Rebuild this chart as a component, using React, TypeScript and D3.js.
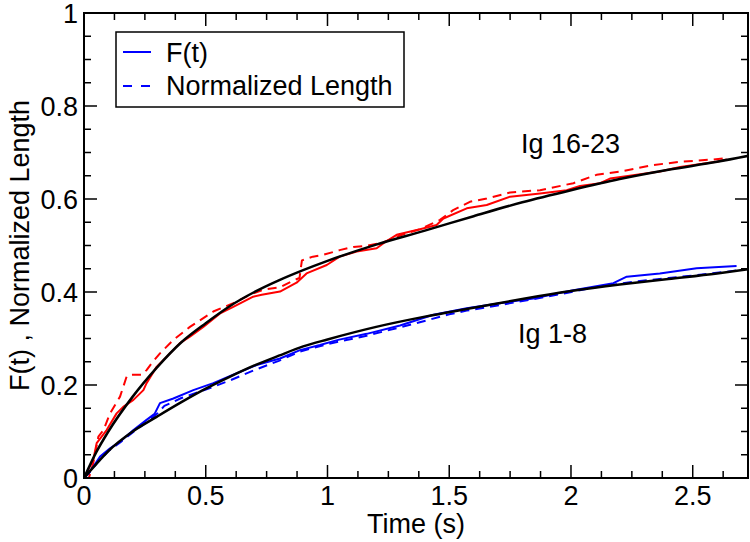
import * as d3 from "d3";

// fitted curves (black)
const fitT = [0, 0.05, 0.1, 0.2, 0.3, 0.4, 0.5, 0.6, 0.7, 0.8, 0.9, 1.0, 1.2, 1.4, 1.6, 1.8, 2.0, 2.2, 2.4, 2.6, 2.73];
const fitIg16 = [0, 0.055, 0.1, 0.175, 0.238, 0.292, 0.333, 0.37, 0.4, 0.425, 0.447, 0.467, 0.502, 0.532, 0.563, 0.593, 0.619, 0.643, 0.663, 0.68, 0.693];
const fitIg1 = [0, 0.03, 0.058, 0.1, 0.132, 0.163, 0.192, 0.218, 0.242, 0.263, 0.283, 0.298, 0.325, 0.347, 0.366, 0.385, 0.402, 0.416, 0.428, 0.44, 0.449];

// Ig 16-23, F(t) (red solid)
const ig16FT = [0, 0.038, 0.052, 0.093, 0.134, 0.161, 0.203, 0.244, 0.257, 0.298, 0.34, 0.394, 0.435, 0.49, 0.559, 0.613, 0.695, 0.73, 0.805, 0.873, 0.914, 0.997, 1.05, 1.12, 1.202, 1.23, 1.284, 1.38, 1.448, 1.476, 1.572, 1.654, 1.75, 1.873, 1.982, 2.037, 2.12, 2.16, 2.365, 2.448, 2.598, 2.64];
const ig16FV = [0, 0.039, 0.075, 0.103, 0.139, 0.153, 0.168, 0.189, 0.204, 0.239, 0.261, 0.29, 0.304, 0.325, 0.354, 0.368, 0.39, 0.394, 0.401, 0.42, 0.44, 0.458, 0.476, 0.487, 0.494, 0.505, 0.523, 0.535, 0.544, 0.558, 0.58, 0.587, 0.605, 0.612, 0.619, 0.628, 0.634, 0.644, 0.659, 0.669, 0.68, 0.685];

// Ig 16-23, normalized length (red dashed)
const ig16LT = [0, 0.02, 0.038, 0.059, 0.08, 0.107, 0.148, 0.175, 0.189, 0.237, 0.257, 0.278, 0.312, 0.367, 0.435, 0.531, 0.613, 0.695, 0.736, 0.805, 0.86, 0.885, 0.895, 0.94, 0.983, 1.05, 1.106, 1.16, 1.23, 1.3, 1.38, 1.462, 1.516, 1.585, 1.654, 1.75, 1.873, 2.01, 2.105, 2.201, 2.338, 2.448, 2.585, 2.64];
const ig16LV = [0, 0.0, 0.032, 0.089, 0.103, 0.139, 0.175, 0.218, 0.222, 0.222, 0.232, 0.247, 0.268, 0.297, 0.325, 0.358, 0.376, 0.397, 0.405, 0.41, 0.425, 0.43, 0.468, 0.476, 0.48, 0.49, 0.497, 0.499, 0.507, 0.522, 0.535, 0.555, 0.576, 0.594, 0.601, 0.614, 0.619, 0.634, 0.652, 0.659, 0.673, 0.68, 0.685, 0.688];

// Ig 1-8, F(t) (blue solid)
const ig1FT = [0, 0.038, 0.066, 0.107, 0.148, 0.203, 0.257, 0.29, 0.312, 0.367, 0.449, 0.531, 0.613, 0.709, 0.805, 0.887, 0.969, 1.044, 1.161, 1.298, 1.435, 1.572, 1.708, 1.845, 2.01, 2.174, 2.229, 2.365, 2.516, 2.68];
const ig1FV = [0, 0.024, 0.046, 0.064, 0.078, 0.103, 0.125, 0.138, 0.161, 0.171, 0.189, 0.204, 0.222, 0.243, 0.257, 0.275, 0.286, 0.297, 0.31, 0.328, 0.351, 0.365, 0.376, 0.386, 0.404, 0.419, 0.433, 0.44, 0.451, 0.456];

// Ig 1-8, normalized length (blue dashed)
const ig1LT = [0, 0.02, 0.05, 0.1, 0.15, 0.2, 0.257, 0.3, 0.33, 0.4, 0.5, 0.6, 0.7, 0.8, 0.887, 1.0, 1.161, 1.366, 1.5, 1.572, 1.708, 1.85, 1.982, 2.1, 2.256, 2.4, 2.53, 2.694];
const ig1LV = [0, 0.01, 0.03, 0.058, 0.077, 0.098, 0.12, 0.138, 0.155, 0.172, 0.19, 0.21, 0.232, 0.252, 0.272, 0.288, 0.306, 0.333, 0.352, 0.36, 0.372, 0.385, 0.398, 0.41, 0.422, 0.43, 0.437, 0.447];

const xTickLabels = ["0", "0.5", "1", "1.5", "2", "2.5"];
const yTickLabels = ["0", "0.2", "0.4", "0.6", "0.8", "1"];
const legendLabels = ["F(t)", "Normalized Length"];

const W = 750;
const H = 542;
const margin = { top: 13, right: 2, bottom: 64, left: 84 };
const font = "'Liberation Sans', Arial, Helvetica, sans-serif";

const zip = (t: number[], v: number[]) => t.map((d, i) => [d, v[i]] as [number, number]);

export default function App() {
  const x = d3.scaleLinear().domain([0, 2.727]).range([margin.left, W - margin.right]);
  const y = d3.scaleLinear().domain([0, 1]).range([H - margin.bottom, margin.top]);
  const x0 = margin.left, x1 = W - margin.right, y0 = H - margin.bottom, y1 = margin.top;

  const line = d3.line<[number, number]>().x((d) => x(d[0])).y((d) => y(d[1]));
  const smooth = d3.line<[number, number]>().x((d) => x(d[0])).y((d) => y(d[1])).curve(d3.curveMonotoneX);

  const xMajor = xTickLabels.map(Number);
  const yMajor = yTickLabels.map(Number);
  const xMinor = d3.range(0, 2.73, 0.125).filter((t) => !xMajor.some((m) => Math.abs(m - t) < 1e-6));
  const yMinor = d3.range(0, 1.0001, 0.05).filter((v) => !yMajor.some((m) => Math.abs(m - v) < 1e-6));

  const series = [
    { d: zip(ig16FT, ig16FV), color: "#ff0000", dash: undefined },
    { d: zip(ig16LT, ig16LV), color: "#ff0000", dash: "9,6" },
    { d: zip(ig1FT, ig1FV), color: "#0000ff", dash: undefined },
    { d: zip(ig1LT, ig1LV), color: "#0000ff", dash: "9,6" },
  ];

  return (
    <div style={{ position: "fixed", left: 0, top: 0 }}>
      <svg width={W} height={H} style={{ display: "block", background: "#fff" }} fontFamily={font}>
        <defs>
          <clipPath id="plot">
            <rect x={x0} y={y1} width={x1 - x0} height={y0 - y1} />
          </clipPath>
        </defs>

        <g clipPath="url(#plot)" fill="none" strokeLinejoin="round">
          {series.map((s, i) => (
            <path key={i} d={line(s.d) ?? ""} stroke={s.color} strokeWidth={2} strokeDasharray={s.dash} />
          ))}
          <path d={smooth(zip(fitT, fitIg16)) ?? ""} stroke="#000" strokeWidth={2.5} />
          <path d={smooth(zip(fitT, fitIg1)) ?? ""} stroke="#000" strokeWidth={2.5} />
        </g>

        {/* ticks, inward on all four sides */}
        <g stroke="#000" strokeWidth={1.5}>
          {xMajor.map((t) => (
            <g key={"xM" + t}>
              <line x1={x(t)} x2={x(t)} y1={y0} y2={y0 - 13} />
              <line x1={x(t)} x2={x(t)} y1={y1} y2={y1 + 13} />
            </g>
          ))}
          {xMinor.map((t) => (
            <g key={"xm" + t}>
              <line x1={x(t)} x2={x(t)} y1={y0} y2={y0 - 7} />
              <line x1={x(t)} x2={x(t)} y1={y1} y2={y1 + 7} />
            </g>
          ))}
          {yMajor.map((v) => (
            <g key={"yM" + v}>
              <line x1={x0} x2={x0 + 13} y1={y(v)} y2={y(v)} />
              <line x1={x1} x2={x1 - 13} y1={y(v)} y2={y(v)} />
            </g>
          ))}
          {yMinor.map((v) => (
            <g key={"ym" + v}>
              <line x1={x0} x2={x0 + 7} y1={y(v)} y2={y(v)} />
              <line x1={x1} x2={x1 - 7} y1={y(v)} y2={y(v)} />
            </g>
          ))}
        </g>
        <rect x={x0} y={y1} width={x1 - x0} height={y0 - y1} fill="none" stroke="#000" strokeWidth={2} />

        <g fontSize={27} fill="#000">
          {xTickLabels.map((l, i) => (
            <text key={l} x={x(xMajor[i])} y={y0 + 27} textAnchor="middle">{l}</text>
          ))}
          {yTickLabels.map((l, i) => (
            <text key={l} x={x0 - 6} y={y(yMajor[i]) + 10} textAnchor="end">{l}</text>
          ))}
          <text x={(x0 + x1) / 2} y={533} textAnchor="middle">Time (s)</text>
          <text transform={`translate(29,${(y0 + y1) / 2}) rotate(-90)`} textAnchor="middle">F(t) , Normalized Length</text>
          <text x={521} y={153}>Ig 16-23</text>
          <text x={518} y={343}>Ig 1-8</text>
        </g>

        {/* legend */}
        <g>
          <rect x={116} y={32} width={288} height={75} fill="#fff" stroke="#000" strokeWidth={1.5} />
          <line x1={123} x2={151} y1={52} y2={52} stroke="#0000ff" strokeWidth={2} />
          <line x1={123} x2={151} y1={86} y2={86} stroke="#0000ff" strokeWidth={2} strokeDasharray="9,9" />
          <text x={166} y={62} fontSize={27}>{legendLabels[0]}</text>
          <text x={166} y={95} fontSize={27}>{legendLabels[1]}</text>
        </g>
      </svg>
    </div>
  );
}
